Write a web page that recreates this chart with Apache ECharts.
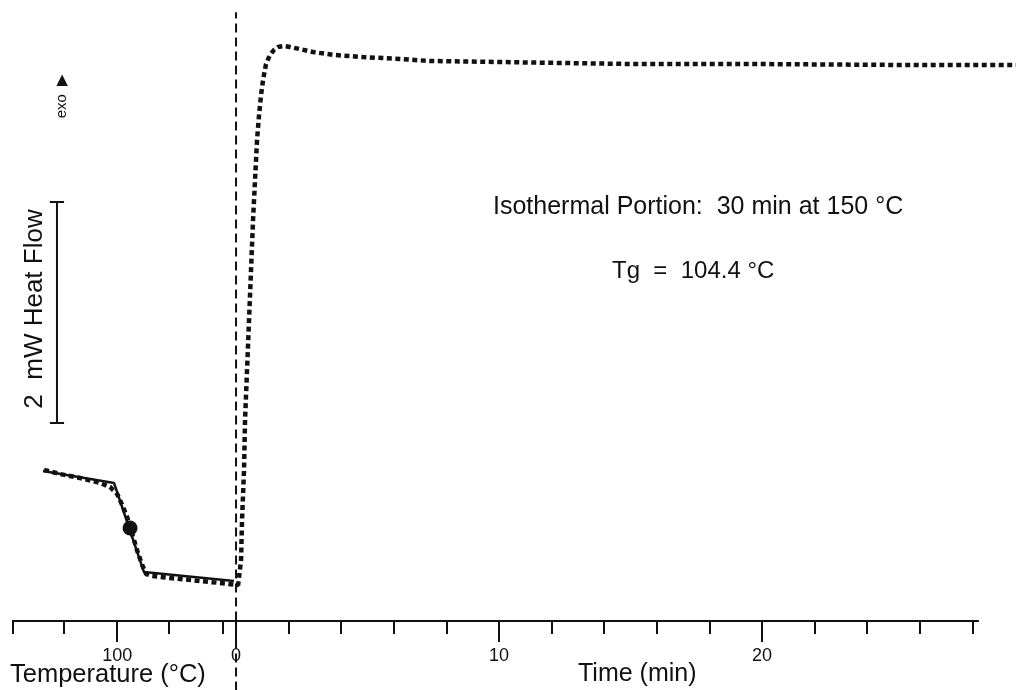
<!DOCTYPE html>
<html>
<head>
<meta charset="utf-8">
<script src="https://cdn.jsdelivr.net/npm/echarts@6/dist/echarts.min.js"></script>
<style>
html,body{margin:0;padding:0;background:#fff;}
#chart{width:1016px;height:690px;}
</style>
</head>
<body>
<div id="chart"></div>
<script>
// Composite x axis in minute-equivalents: left of 0 is the temperature scan, right of 0 is time (min)
// y axis in mW (heat flow)
const dscX = [-7.30,-6.69,-5.93,-5.17,-4.79,-4.52,-4.33,-4.14,-4.03,-3.88,-3.73,-3.57,-3.42,-3.19,-2.51,-1.37,-0.61,0.08,
  0.19,0.228,0.304,0.342,0.418,0.494,0.57,0.646,0.722,0.798,0.875,0.95,1.027,1.14,1.29,1.44,1.60,1.83,2.05,2.43,2.93,3.76,4.83,6.24,7.38,9.92,12.43,14.98,19.54,25.25,29.66];
const dscY = [1.367,1.330,1.294,1.249,1.213,1.149,1.050,0.941,0.842,0.733,0.615,0.507,0.425,0.407,0.389,0.362,0.344,0.326,
  0.552,0.914,1.367,1.819,2.271,2.724,3.176,3.629,3.991,4.353,4.579,4.760,4.896,5.041,5.122,5.167,5.195,5.204,5.195,5.176,5.149,5.122,5.104,5.086,5.068,5.059,5.050,5.041,5.041,5.032,5.032];
const tangentX = [-7.34,-4.64,-3.50,-0.08];
const tangentY = [1.357,1.249,0.443,0.362];
const tgPoint = [-4.03, 0.842];
const scaleBarX = -6.81;
const scaleBarY = [1.792, 3.792];
const scaleCapHalf = 0.27;
const isoStartX = 0;
const isoLineY = [-0.63, 5.51];
const axisEndX = 28.25;
const minorTicks = [-8.5,-6.55,-2.55,-0.5,2,4,6,8,12,14,16,18,22,24,26,28];
const majorTicks = [-4.52,0,10,20];
const majorLabels = ['100','0','10','20'];
const xMin = -8.52, xMax = 29.66;
const yMin = 0, yMax = 5.62;

const zip = (xs, ys) => xs.map((x, i) => [x, ys[i]]);
const ink = '#111';
const font = 'Liberation Sans, Arial, Helvetica, sans-serif';

const scaleBar = [
  [scaleBarX - scaleCapHalf, scaleBarY[0]], [scaleBarX + scaleCapHalf, scaleBarY[0]], [scaleBarX, scaleBarY[0]],
  [scaleBarX, scaleBarY[1]], [scaleBarX - scaleCapHalf, scaleBarY[1]], [scaleBarX + scaleCapHalf, scaleBarY[1]]
];

const chart = echarts.init(document.getElementById('chart'), null, {renderer: 'canvas'});
chart.setOption({
  animation: false,
  backgroundColor: '#fff',
  grid: {left: 12, right: 0, top: 0, bottom: 69, containLabel: false, outerBoundsMode: 'none'},
  xAxis: [
    {
      type: 'value', min: xMin, max: xMax, position: 'bottom',
      axisLine: {show: false, onZero: false},
      axisTick: {show: true, inside: false, length: 13, customValues: minorTicks, lineStyle: {color: ink, width: 2}},
      axisLabel: {show: false},
      splitLine: {show: false}
    },
    {
      type: 'value', min: xMin, max: xMax, position: 'bottom',
      axisLine: {show: false, onZero: false},
      axisTick: {show: true, inside: false, length: 21, customValues: majorTicks, lineStyle: {color: ink, width: 2}},
      axisLabel: {
        show: true, customValues: majorTicks, margin: 26,
        color: ink, fontSize: 18, fontFamily: font,
        formatter: (v) => { const i = majorTicks.findIndex(t => Math.abs(t - v) < 1e-6); return i >= 0 ? majorLabels[i] : ''; }
      },
      splitLine: {show: false}
    }
  ],
  yAxis: {type: 'value', min: yMin, max: yMax, show: false},
  series: [
    {
      type: 'line', data: [[xMin, yMin], [axisEndX, yMin]], symbol: 'none', clip: false,
      lineStyle: {color: ink, width: 2}
    },
    {
      type: 'line', data: zip(dscX, dscY), symbol: 'none', clip: false, smooth: false,
      lineStyle: {color: ink, width: 4.5, type: [5, 3.5], cap: 'butt'}
    },
    {
      type: 'line', data: zip(tangentX, tangentY), symbol: 'none', clip: false,
      lineStyle: {color: ink, width: 2.5}
    },
    {
      type: 'line', data: [[isoStartX, isoLineY[0]], [isoStartX, isoLineY[1]]], symbol: 'none', clip: false,
      lineStyle: {color: ink, width: 2, type: [9, 5]}
    },
    {
      type: 'line', data: scaleBar, symbol: 'none', clip: false,
      lineStyle: {color: ink, width: 2}
    },
    {
      type: 'scatter', data: [tgPoint], symbol: 'circle', symbolSize: 15, clip: false,
      itemStyle: {color: ink, opacity: 1}
    }
  ],
  graphic: [
    {type: 'text', left: 493, top: 195, style: {text: 'Isothermal Portion:  30 min at 150 °C', font: '25px ' + font, fill: ink}},
    {type: 'text', left: 612, top: 259, style: {text: 'Tg  =  104.4 °C', font: '24px ' + font, fill: ink}},
    {type: 'text', left: 10, top: 662, style: {text: 'Temperature (°C)', font: '25.5px ' + font, fill: ink}},
    {type: 'text', left: 578, top: 662, style: {text: 'Time (min)', font: '25px ' + font, fill: ink}},
    {type: 'text', x: 35, y: 309, rotation: Math.PI / 2,
      style: {text: '2  mW Heat Flow', font: '26px ' + font, fill: ink, textAlign: 'center', textVerticalAlign: 'middle'}},
    {type: 'text', x: 62, y: 96, rotation: Math.PI / 2,
      style: {text: 'exo  \u25B6', font: '15px ' + font, fill: ink, textAlign: 'center', textVerticalAlign: 'middle'}}
  ]
});
</script>
</body>
</html>
